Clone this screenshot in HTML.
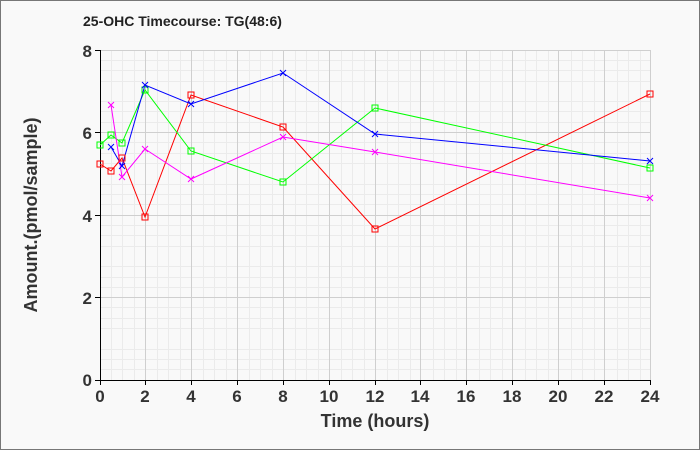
<!DOCTYPE html>
<html><head><meta charset="utf-8"><style>body{margin:0}svg{display:block}</style></head><body>
<svg width="700" height="450" xmlns="http://www.w3.org/2000/svg" font-family="Liberation Sans, sans-serif">
<rect x="0.5" y="0.5" width="699" height="449" fill="#f9f9f9" stroke="#777"/>
<text x="83" y="26" font-size="14" font-weight="bold" fill="#222">25-OHC Timecourse: TG(48:6)</text>
<g stroke="#ebebeb" stroke-width="1">
<path d="M111.5 50V380M122.5 50V380M134.5 50V380M157.5 50V380M168.5 50V380M180.5 50V380M203.5 50V380M214.5 50V380M226.5 50V380M249.5 50V380M260.5 50V380M272.5 50V380M295.5 50V380M306.5 50V380M318.5 50V380M341.5 50V380M352.5 50V380M364.5 50V380M387.5 50V380M398.5 50V380M410.5 50V380M433.5 50V380M444.5 50V380M456.5 50V380M479.5 50V380M490.5 50V380M502.5 50V380M525.5 50V380M536.5 50V380M548.5 50V380M571.5 50V380M582.5 50V380M594.5 50V380M617.5 50V380M628.5 50V380M640.5 50V380"/>
<path d="M100 60.5H650M100 70.5H650M100 81.5H650M100 101.5H650M100 111.5H650M100 122.5H650M100 142.5H650M100 153.5H650M100 163.5H650M100 184.5H650M100 194.5H650M100 204.5H650M100 225.5H650M100 235.5H650M100 246.5H650M100 266.5H650M100 277.5H650M100 287.5H650M100 307.5H650M100 318.5H650M100 328.5H650M100 349.5H650M100 359.5H650M100 369.5H650"/>
</g>
<g stroke="#cfcfcf" stroke-width="1">
<path d="M145.5 50V380M191.5 50V380M237.5 50V380M283.5 50V380M329.5 50V380M375.5 50V380M420.5 50V380M466.5 50V380M512.5 50V380M558.5 50V380M604.5 50V380M650.5 50V380"/>
<path d="M100 50.5H650M100 132.5H650M100 215.5H650M100 297.5H650"/>
</g>
<path d="M100.5 50V380.5H650" stroke="#000" fill="none"/>
<g stroke="#000"><path d="M95 50.5H100M95 132.5H100M95 215.5H100M95 297.5H100M95 380.5H100"/>
<path d="M100.5 380V385M145.5 380V385M191.5 380V385M237.5 380V385M283.5 380V385M329.5 380V385M375.5 380V385M420.5 380V385M466.5 380V385M512.5 380V385M558.5 380V385M604.5 380V385M650.5 380V385"/></g>
<g font-size="17" font-weight="bold" fill="#333" text-anchor="end">
<text x="92" y="57">8</text><text x="92" y="139">6</text><text x="92" y="222">4</text><text x="92" y="304">2</text><text x="92" y="386">0</text></g>
<g font-size="17" font-weight="bold" fill="#333" text-anchor="middle">
<text x="100" y="402">0</text><text x="145" y="402">2</text><text x="191" y="402">4</text><text x="237" y="402">6</text><text x="283" y="402">8</text><text x="329" y="402">10</text><text x="375" y="402">12</text><text x="420" y="402">14</text><text x="466" y="402">16</text><text x="512" y="402">18</text><text x="558" y="402">20</text><text x="604" y="402">22</text><text x="650" y="402">24</text></g>
<text x="375" y="427" font-size="18" font-weight="bold" fill="#333" text-anchor="middle">Time (hours)</text>
<text transform="translate(37,215) rotate(-90)" font-size="18" font-weight="bold" fill="#333" text-anchor="middle">Amount.(pmol/sample)</text>
<g fill="none" stroke-width="1">
<polyline stroke="#f00" points="100,164 111,171 122,158 145,217 191,95 283,127 375,229 650,94"/>
<polyline stroke="#0f0" points="100,145 111,135 122,143 145,90 191,151 283,182 375,108 650,168"/>
<polyline stroke="#00f" points="111,147 122,166 145,85 191,104 283,73 375,134 650,161"/>
<polyline stroke="#f0f" points="111,105 122,177 145,149 191,179 283,137 375,152 650,198"/>
</g>
<g fill="none" stroke="#f00"><rect x="97" y="161" width="6" height="6"/><rect x="108" y="168" width="6" height="6"/><rect x="119" y="155" width="6" height="6"/><rect x="142" y="214" width="6" height="6"/><rect x="188" y="92" width="6" height="6"/><rect x="280" y="124" width="6" height="6"/><rect x="372" y="226" width="6" height="6"/><rect x="647" y="91" width="6" height="6"/></g>
<g fill="none" stroke="#0f0"><rect x="97" y="142" width="6" height="6"/><rect x="108" y="132" width="6" height="6"/><rect x="119" y="140" width="6" height="6"/><rect x="142" y="87" width="6" height="6"/><rect x="188" y="148" width="6" height="6"/><rect x="280" y="179" width="6" height="6"/><rect x="372" y="105" width="6" height="6"/><rect x="647" y="165" width="6" height="6"/></g>
<g stroke="#00f"><path d="M108 144l6 6M114 144l-6 6M119 163l6 6M125 163l-6 6M142 82l6 6M148 82l-6 6M188 101l6 6M194 101l-6 6M280 70l6 6M286 70l-6 6M372 131l6 6M378 131l-6 6M647 158l6 6M653 158l-6 6"/></g>
<g stroke="#f0f"><path d="M108 102l6 6M114 102l-6 6M119 174l6 6M125 174l-6 6M142 146l6 6M148 146l-6 6M188 176l6 6M194 176l-6 6M280 134l6 6M286 134l-6 6M372 149l6 6M378 149l-6 6M647 195l6 6M653 195l-6 6"/></g>
</svg>
</body></html>
